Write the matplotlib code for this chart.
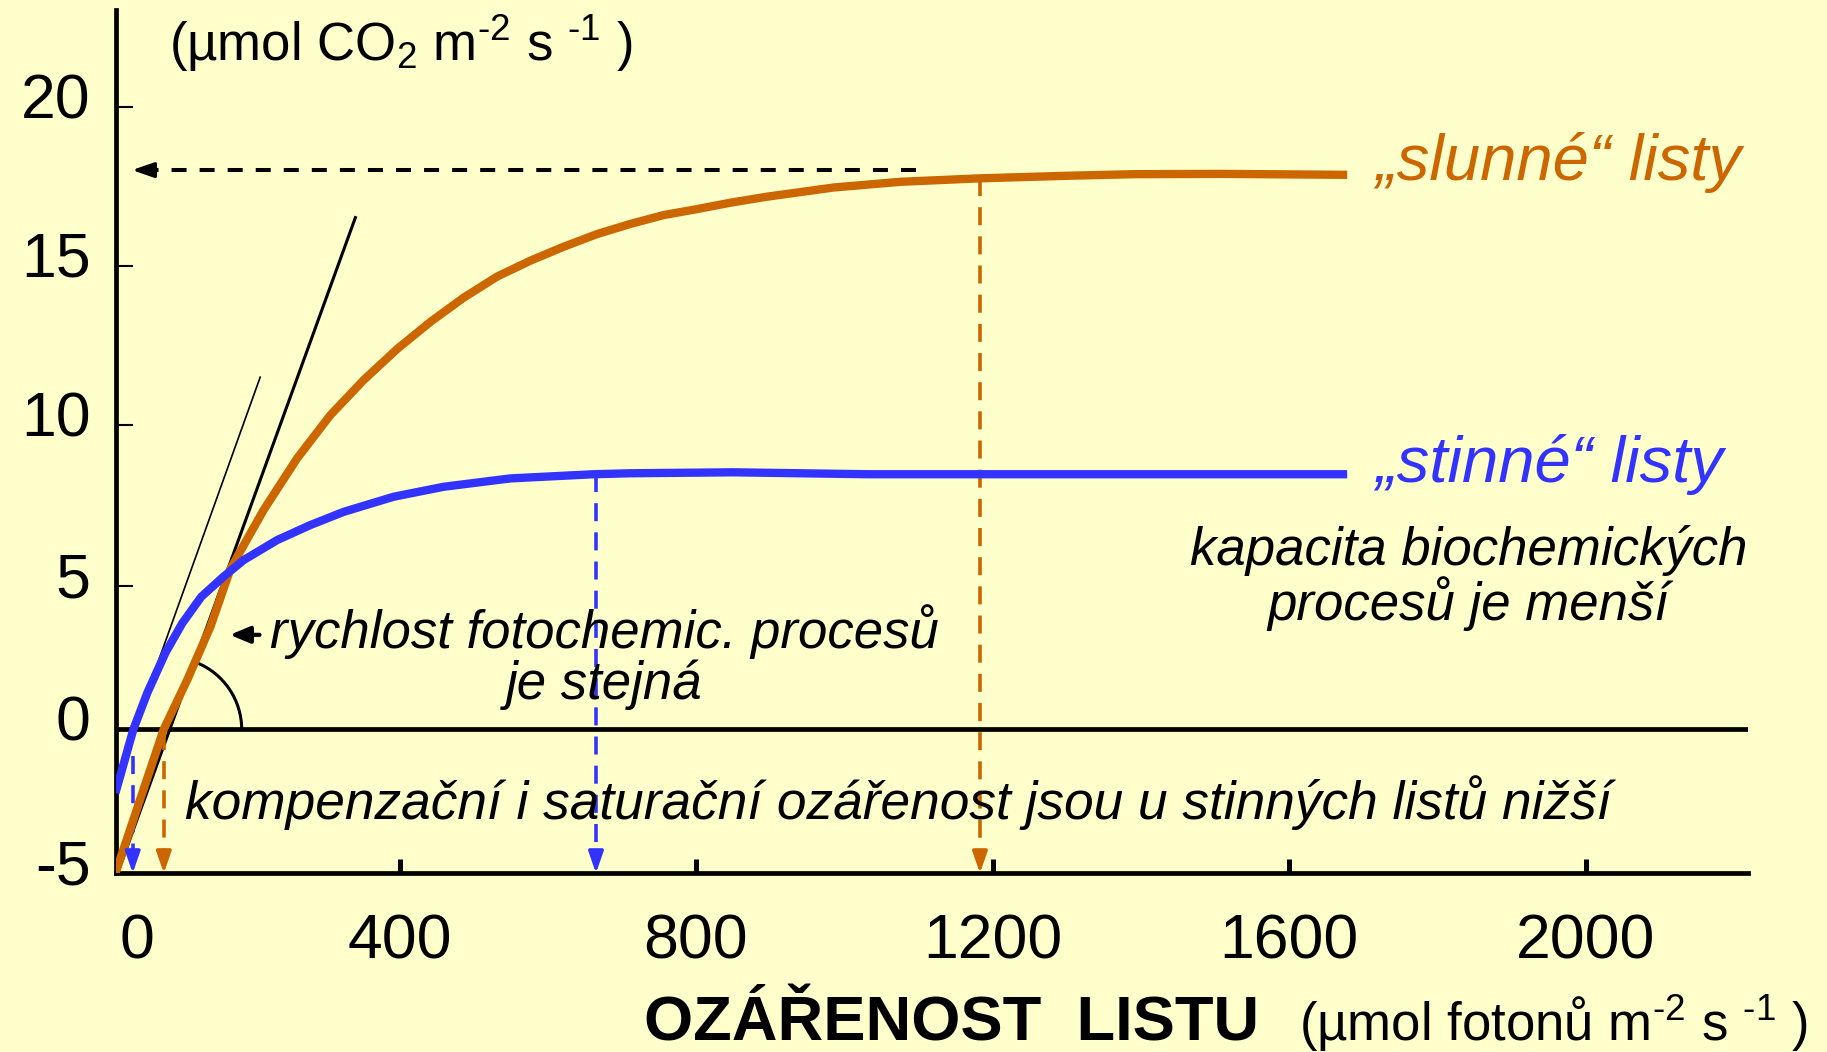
import numpy as np
import matplotlib
matplotlib.use('Agg')
import matplotlib.pyplot as plt
from matplotlib.patches import Arc
from matplotlib.transforms import Affine2D, ScaledTranslation
from matplotlib.mathtext import MathTextParser

plt.rcParams['font.family'] = ['Liberation Sans', 'DejaVu Sans']
plt.rcParams['mathtext.fontset'] = 'custom'
plt.rcParams['mathtext.rm'] = 'Liberation Sans'
plt.rcParams['mathtext.it'] = 'Liberation Sans:italic'
plt.rcParams['mathtext.bf'] = 'Liberation Sans:bold'
plt.rcParams['axes.unicode_minus'] = False
plt.rcParams['lines.scale_dashes'] = False

BG = '#FFFFCC'
ORANGE = '#CC6600'
BLUE = '#3333FF'

# light response curves
sun_x = [16.7, 81.8, 113.8, 144.8, 171.8, 187.5, 216.7, 261.7, 306.6, 351.6, 396.6, 441.5,
         486.4, 531.5, 576.4, 621.3, 666.4, 711.3, 756.2, 801.7, 846.2, 895.7, 985.5,
         1075.5, 1183.4, 1300.3, 1390.2, 1507.1, 1678.4]
sun_y = [-5.0, 0.0, 1.74, 3.58, 5.53, 6.18, 7.37, 8.97, 10.32, 11.42, 12.39, 13.24,
         14.0, 14.66, 15.16, 15.60, 16.0, 16.32, 16.60, 16.79, 16.99, 17.18, 17.47,
         17.65, 17.76, 17.84, 17.89, 17.90, 17.87]
shade_x = [16.7, 40.9, 59.8, 84.1, 107.0, 132.6, 162.3, 189.7, 234.7, 279.7, 324.6, 392.0,
           459.5, 549.4, 661.8, 711.3, 850.2, 1031.0, 1678.4]
shade_y = [-2.21, 0.0, 1.28, 2.67, 3.71, 4.63, 5.29, 5.81, 6.43, 6.90, 7.31, 7.78,
           8.09, 8.35, 8.48, 8.51, 8.54, 8.48, 8.48]

# initial slopes (quantum yield)
slope_long_x = [19.6, 340.4]
slope_long_y = [-5.0, 16.52]
slope_short_x = [18.9, 212.0]
slope_short_y = [-1.63, 11.51]

# compensation and saturation irradiance, max rate
comp_sun, comp_shade = 82, 40
sat_sun, sat_shade = 1183, 665
pmax_sun, pmax_shade = 17.76, 8.48
pmax_line = 18.02

x_ticks = [400, 800, 1200, 1600, 2000]
y_ticks = [-5, 0, 5, 10, 15, 20]

# the drawing has unequal spacing of the y ticks (below 5 they are closer)
y_knots = [-10, -5, 0, 5, 10, 15, 20, 30]
y_space = [-123, 0, 123.5, 246.5, 384.5, 521.5, 657.5, 931.5]


def fwd(v):
    return np.interp(v, y_knots, y_space)


def inv(p):
    return np.interp(p, y_space, y_knots)


# superscripts with a short hyphen if mathtext knows \text
try:
    MathTextParser('agg').parse(r'$^{\text{-2}}$', dpi=100)
    def sup(s):
        return r'$^{\text{' + s + '}}$'
except Exception:
    def sup(s):
        return '$^{' + s + '}$'

fig = plt.figure(figsize=(18.27, 10.52), dpi=100, facecolor=BG)
ax = fig.add_axes([0.0633, 0.1699, 0.8934, 0.8206])
ax.set_facecolor(BG)
ax.set_yscale('function', functions=(fwd, inv))
ax.set_xlim(17, 2219)
ax.set_ylim(-5, 23.05)

for s in ['top', 'right']:
    ax.spines[s].set_visible(False)
ax.spines['left'].set_linewidth(3.4)
ax.spines['bottom'].set_linewidth(3.4)
ax.axhline(0, color='k', lw=3.4, zorder=2)

ax.set_xticks(x_ticks)
ax.set_xticks([45.4], labels=['0'], minor=True)
ax.tick_params(axis='x', which='major', direction='in', length=10, width=3.6, pad=28, labelsize=45)
ax.tick_params(axis='x', which='minor', length=0, pad=28, labelsize=45)
ax.set_yticks(y_ticks)
ax.tick_params(axis='y', direction='in', length=12, width=1.5, pad=18, labelsize=45)
for lab in ax.get_yticklabels():
    lab.set_transform(lab.get_transform() + ScaledTranslation(0, 8.6 / 72, fig.dpi_scale_trans))

# curves
ax.plot(sun_x, sun_y, color=ORANGE, lw=6, solid_capstyle='butt', solid_joinstyle='round', zorder=4)
ax.plot(shade_x, shade_y, color=BLUE, lw=6, solid_capstyle='butt', solid_joinstyle='round', zorder=5)
ax.plot(slope_long_x, slope_long_y, color='k', lw=2.2, zorder=3)
ax.plot(slope_short_x, slope_short_y, color='k', lw=1.2, zorder=3)


def head(x0, y0, x1, y1, color):
    ax.annotate('', xy=(x1, y1), xytext=(x0, y0),
                arrowprops=dict(arrowstyle='-|>,head_length=1.3,head_width=0.45',
                                color=color, lw=2.5, shrinkA=0, shrinkB=0,
                                mutation_scale=10), zorder=6)


# dashed guides to the axes
ax.plot([sat_sun, sat_sun], [pmax_sun, -4.3], color=ORANGE, lw=2.6, ls=(0, (13, 8)), zorder=3)
head(sat_sun, -4.3, sat_sun, -5, ORANGE)
ax.plot([sat_shade, sat_shade], [pmax_shade, -4.3], color=BLUE, lw=2.6, ls=(0, (13, 8)), zorder=3)
head(sat_shade, -4.3, sat_shade, -5, BLUE)
ax.plot([comp_shade, comp_shade], [-0.92, -4.3], color=BLUE, lw=2.6, ls=(0, (13, 8)), zorder=3)
head(comp_shade, -4.3, comp_shade, -5, BLUE)
ax.plot([comp_sun, comp_sun], [-0.1, -4.3], color=ORANGE, lw=2.6, ls=(0, (13, 8)), zorder=3)
head(comp_sun, -4.3, comp_sun, -5, ORANGE)
ax.plot([1097, 70], [pmax_line, pmax_line], color='k', lw=2.9, ls=(0, (10.8, 9.4)), zorder=3)
head(70, pmax_line, 39, pmax_line, 'k')

# angle mark between the initial slope and the zero line
arc_tr = Affine2D().scale(72) + ScaledTranslation(89.9, 0, ax.transData)
ax.add_patch(Arc((0, 0), 2, 2, theta1=0, theta2=68, color='k', lw=2.2, transform=arc_tr))

# labels in the plot
ax.text(1716, 17.70, '„slunné“ listy', color=ORANGE, fontsize=47, style='italic', va='baseline')
ax.text(1716, 8.25, '„stinné“ listy', color=BLUE, fontsize=47, style='italic', va='baseline')
ax.text(1842, 3.83, 'kapacita biochemických\nprocesů je menší', fontsize=38, style='italic',
        ha='center', va='baseline', multialignment='center', linespacing=1.0)
ax.text(676, 1.07, 'rychlost fotochemic. procesů\nje stejná', fontsize=38, style='italic',
        ha='center', va='baseline', multialignment='center', linespacing=1.0)
ax.annotate('', xy=(171, 3.3), xytext=(211, 3.3),
            arrowprops=dict(arrowstyle='-|>,head_length=1.2,head_width=0.5', color='k',
                            lw=3, shrinkA=0, shrinkB=0, mutation_scale=10))
ax.text(110, -3.11, 'kompenzační i saturační ozářenost jsou u stinných listů nižší',
        fontsize=38.3, style='italic', va='baseline')

# axis titles
fig.text(0.0925, 0.9424, '(µmol CO$_2$ m' + sup('-2') + ' s ' + sup('-1') + ' )',
         fontsize=38, va='baseline')
fig.text(0.3527, 0.0109, 'OZÁŘENOST  LISTU', fontsize=45.5, weight='bold', va='baseline')
fig.text(0.711, 0.0109, '(µmol fotonů m' + sup('-2') + ' s ' + sup('-1') + ' )',
         fontsize=38, va='baseline')

fig.savefig('out.png', dpi=100, facecolor=BG)
